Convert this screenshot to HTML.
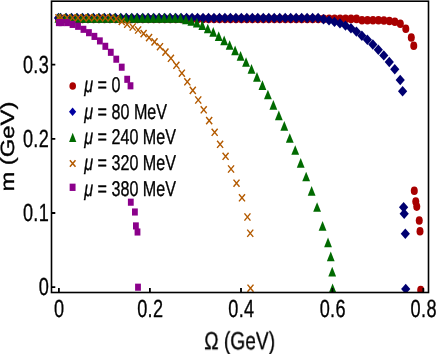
<!DOCTYPE html>
<html><head><meta charset="utf-8"><title>plot</title>
<style>html,body{margin:0;padding:0;background:#fff;}svg{display:block;font-family:"Liberation Sans",sans-serif;}text{text-rendering:geometricPrecision;}</style>
</head><body>
<svg style="will-change:transform" width="436" height="354" viewBox="0 0 436 354">
<rect width="436" height="354" fill="#fff"/>
<defs><clipPath id="cp"><rect x="51.5" y="1.2" width="377" height="291.3"/></clipPath></defs><g clip-path="url(#cp)">
<g><ellipse cx="58.70" cy="18.90" rx="3.5" ry="4.3" fill="#a80000"/><ellipse cx="60.70" cy="18.90" rx="3.5" ry="4.3" fill="#a80000"/><ellipse cx="66.18" cy="18.90" rx="3.5" ry="4.3" fill="#a80000"/><ellipse cx="71.66" cy="18.90" rx="3.5" ry="4.3" fill="#a80000"/><ellipse cx="77.13" cy="18.90" rx="3.5" ry="4.3" fill="#a80000"/><ellipse cx="82.61" cy="18.90" rx="3.5" ry="4.3" fill="#a80000"/><ellipse cx="88.09" cy="18.90" rx="3.5" ry="4.3" fill="#a80000"/><ellipse cx="93.57" cy="18.90" rx="3.5" ry="4.3" fill="#a80000"/><ellipse cx="99.05" cy="18.90" rx="3.5" ry="4.3" fill="#a80000"/><ellipse cx="104.52" cy="18.90" rx="3.5" ry="4.3" fill="#a80000"/><ellipse cx="110.00" cy="18.90" rx="3.5" ry="4.3" fill="#a80000"/><ellipse cx="115.48" cy="18.90" rx="3.5" ry="4.3" fill="#a80000"/><ellipse cx="120.96" cy="18.90" rx="3.5" ry="4.3" fill="#a80000"/><ellipse cx="126.44" cy="18.90" rx="3.5" ry="4.3" fill="#a80000"/><ellipse cx="131.91" cy="18.90" rx="3.5" ry="4.3" fill="#a80000"/><ellipse cx="137.39" cy="18.90" rx="3.5" ry="4.3" fill="#a80000"/><ellipse cx="142.87" cy="18.90" rx="3.5" ry="4.3" fill="#a80000"/><ellipse cx="148.35" cy="18.90" rx="3.5" ry="4.3" fill="#a80000"/><ellipse cx="153.83" cy="18.90" rx="3.5" ry="4.3" fill="#a80000"/><ellipse cx="159.30" cy="18.90" rx="3.5" ry="4.3" fill="#a80000"/><ellipse cx="164.78" cy="18.90" rx="3.5" ry="4.3" fill="#a80000"/><ellipse cx="170.26" cy="18.90" rx="3.5" ry="4.3" fill="#a80000"/><ellipse cx="175.74" cy="18.90" rx="3.5" ry="4.3" fill="#a80000"/><ellipse cx="181.22" cy="18.90" rx="3.5" ry="4.3" fill="#a80000"/><ellipse cx="186.69" cy="18.90" rx="3.5" ry="4.3" fill="#a80000"/><ellipse cx="192.17" cy="18.90" rx="3.5" ry="4.3" fill="#a80000"/><ellipse cx="197.65" cy="18.90" rx="3.5" ry="4.3" fill="#a80000"/><ellipse cx="203.13" cy="18.90" rx="3.5" ry="4.3" fill="#a80000"/><ellipse cx="208.61" cy="18.90" rx="3.5" ry="4.3" fill="#a80000"/><ellipse cx="214.08" cy="18.90" rx="3.5" ry="4.3" fill="#a80000"/><ellipse cx="219.56" cy="18.90" rx="3.5" ry="4.3" fill="#a80000"/><ellipse cx="225.04" cy="18.90" rx="3.5" ry="4.3" fill="#a80000"/><ellipse cx="230.52" cy="18.90" rx="3.5" ry="4.3" fill="#a80000"/><ellipse cx="236.00" cy="18.90" rx="3.5" ry="4.3" fill="#a80000"/><ellipse cx="241.47" cy="18.90" rx="3.5" ry="4.3" fill="#a80000"/><ellipse cx="246.95" cy="18.90" rx="3.5" ry="4.3" fill="#a80000"/><ellipse cx="252.43" cy="18.90" rx="3.5" ry="4.3" fill="#a80000"/><ellipse cx="257.91" cy="18.90" rx="3.5" ry="4.3" fill="#a80000"/><ellipse cx="263.39" cy="18.90" rx="3.5" ry="4.3" fill="#a80000"/><ellipse cx="268.86" cy="18.90" rx="3.5" ry="4.3" fill="#a80000"/><ellipse cx="274.34" cy="18.90" rx="3.5" ry="4.3" fill="#a80000"/><ellipse cx="279.82" cy="18.90" rx="3.5" ry="4.3" fill="#a80000"/><ellipse cx="285.30" cy="18.90" rx="3.5" ry="4.3" fill="#a80000"/><ellipse cx="290.78" cy="18.90" rx="3.5" ry="4.3" fill="#a80000"/><ellipse cx="296.25" cy="18.90" rx="3.5" ry="4.3" fill="#a80000"/><ellipse cx="301.73" cy="18.90" rx="3.5" ry="4.3" fill="#a80000"/><ellipse cx="307.21" cy="18.90" rx="3.5" ry="4.3" fill="#a80000"/><ellipse cx="312.69" cy="18.90" rx="3.5" ry="4.3" fill="#a80000"/><ellipse cx="318.17" cy="18.90" rx="3.5" ry="4.3" fill="#a80000"/><ellipse cx="323.64" cy="18.90" rx="3.5" ry="4.3" fill="#a80000"/><ellipse cx="329.12" cy="18.90" rx="3.5" ry="4.3" fill="#a80000"/><ellipse cx="334.60" cy="18.90" rx="3.5" ry="4.3" fill="#a80000"/><ellipse cx="340.08" cy="18.90" rx="3.5" ry="4.3" fill="#a80000"/><ellipse cx="345.56" cy="18.90" rx="3.5" ry="4.3" fill="#a80000"/><ellipse cx="351.03" cy="18.90" rx="3.5" ry="4.3" fill="#a80000"/><ellipse cx="356.51" cy="18.90" rx="3.5" ry="4.3" fill="#a80000"/><ellipse cx="361.99" cy="20.20" rx="3.5" ry="4.3" fill="#a80000"/><ellipse cx="367.47" cy="20.20" rx="3.5" ry="4.3" fill="#a80000"/><ellipse cx="372.95" cy="20.30" rx="3.5" ry="4.3" fill="#a80000"/><ellipse cx="378.42" cy="20.30" rx="3.5" ry="4.3" fill="#a80000"/><ellipse cx="383.90" cy="20.50" rx="3.5" ry="4.3" fill="#a80000"/><ellipse cx="389.38" cy="21.00" rx="3.5" ry="4.3" fill="#a80000"/><ellipse cx="394.86" cy="21.80" rx="3.5" ry="4.3" fill="#a80000"/><ellipse cx="400.34" cy="23.80" rx="3.5" ry="4.3" fill="#a80000"/><ellipse cx="405.81" cy="28.80" rx="3.5" ry="4.3" fill="#a80000"/><ellipse cx="411.29" cy="37.50" rx="3.5" ry="4.3" fill="#a80000"/><ellipse cx="413.75" cy="45.75" rx="3.5" ry="4.3" fill="#a80000"/><ellipse cx="414.30" cy="190.80" rx="3.5" ry="4.3" fill="#a80000"/><ellipse cx="415.75" cy="201.50" rx="3.5" ry="4.3" fill="#a80000"/><ellipse cx="416.75" cy="206.60" rx="3.5" ry="4.3" fill="#a80000"/><ellipse cx="419.25" cy="220.50" rx="3.5" ry="4.3" fill="#a80000"/><ellipse cx="420.00" cy="231.25" rx="3.5" ry="4.3" fill="#a80000"/><ellipse cx="420.70" cy="290.00" rx="3.5" ry="4.3" fill="#a80000"/></g>
<g><path d="M53.90 18.00L58.50 12.80L63.10 18.00L58.50 23.20Z" fill="#000070"/><path d="M56.00 18.00L60.60 12.80L65.20 18.00L60.60 23.20Z" fill="#000070"/><path d="M61.48 18.00L66.08 12.80L70.68 18.00L66.08 23.20Z" fill="#000070"/><path d="M66.96 18.00L71.56 12.80L76.16 18.00L71.56 23.20Z" fill="#000070"/><path d="M72.43 18.00L77.03 12.80L81.63 18.00L77.03 23.20Z" fill="#000070"/><path d="M77.91 18.00L82.51 12.80L87.11 18.00L82.51 23.20Z" fill="#000070"/><path d="M83.39 18.00L87.99 12.80L92.59 18.00L87.99 23.20Z" fill="#000070"/><path d="M88.87 18.00L93.47 12.80L98.07 18.00L93.47 23.20Z" fill="#000070"/><path d="M94.35 18.00L98.95 12.80L103.55 18.00L98.95 23.20Z" fill="#000070"/><path d="M99.82 18.00L104.42 12.80L109.02 18.00L104.42 23.20Z" fill="#000070"/><path d="M105.30 18.00L109.90 12.80L114.50 18.00L109.90 23.20Z" fill="#000070"/><path d="M110.78 18.00L115.38 12.80L119.98 18.00L115.38 23.20Z" fill="#000070"/><path d="M116.26 18.00L120.86 12.80L125.46 18.00L120.86 23.20Z" fill="#000070"/><path d="M121.74 18.00L126.34 12.80L130.94 18.00L126.34 23.20Z" fill="#000070"/><path d="M127.21 18.00L131.81 12.80L136.41 18.00L131.81 23.20Z" fill="#000070"/><path d="M132.69 18.00L137.29 12.80L141.89 18.00L137.29 23.20Z" fill="#000070"/><path d="M138.17 18.00L142.77 12.80L147.37 18.00L142.77 23.20Z" fill="#000070"/><path d="M143.65 18.00L148.25 12.80L152.85 18.00L148.25 23.20Z" fill="#000070"/><path d="M149.13 18.00L153.73 12.80L158.33 18.00L153.73 23.20Z" fill="#000070"/><path d="M154.60 18.00L159.20 12.80L163.80 18.00L159.20 23.20Z" fill="#000070"/><path d="M160.08 18.00L164.68 12.80L169.28 18.00L164.68 23.20Z" fill="#000070"/><path d="M165.56 18.00L170.16 12.80L174.76 18.00L170.16 23.20Z" fill="#000070"/><path d="M171.04 18.00L175.64 12.80L180.24 18.00L175.64 23.20Z" fill="#000070"/><path d="M176.52 18.00L181.12 12.80L185.72 18.00L181.12 23.20Z" fill="#000070"/><path d="M181.99 18.00L186.59 12.80L191.19 18.00L186.59 23.20Z" fill="#000070"/><path d="M187.47 18.00L192.07 12.80L196.67 18.00L192.07 23.20Z" fill="#000070"/><path d="M192.95 18.00L197.55 12.80L202.15 18.00L197.55 23.20Z" fill="#000070"/><path d="M198.43 18.00L203.03 12.80L207.63 18.00L203.03 23.20Z" fill="#000070"/><path d="M203.91 18.00L208.51 12.80L213.11 18.00L208.51 23.20Z" fill="#000070"/><path d="M209.38 18.00L213.98 12.80L218.58 18.00L213.98 23.20Z" fill="#000070"/><path d="M214.86 18.00L219.46 12.80L224.06 18.00L219.46 23.20Z" fill="#000070"/><path d="M220.34 18.00L224.94 12.80L229.54 18.00L224.94 23.20Z" fill="#000070"/><path d="M225.82 18.00L230.42 12.80L235.02 18.00L230.42 23.20Z" fill="#000070"/><path d="M231.30 18.00L235.90 12.80L240.50 18.00L235.90 23.20Z" fill="#000070"/><path d="M236.77 18.00L241.37 12.80L245.97 18.00L241.37 23.20Z" fill="#000070"/><path d="M242.25 18.00L246.85 12.80L251.45 18.00L246.85 23.20Z" fill="#000070"/><path d="M247.73 18.00L252.33 12.80L256.93 18.00L252.33 23.20Z" fill="#000070"/><path d="M253.21 18.00L257.81 12.80L262.41 18.00L257.81 23.20Z" fill="#000070"/><path d="M258.69 18.00L263.29 12.80L267.89 18.00L263.29 23.20Z" fill="#000070"/><path d="M264.16 18.00L268.76 12.80L273.36 18.00L268.76 23.20Z" fill="#000070"/><path d="M269.64 18.00L274.24 12.80L278.84 18.00L274.24 23.20Z" fill="#000070"/><path d="M275.12 18.00L279.72 12.80L284.32 18.00L279.72 23.20Z" fill="#000070"/><path d="M280.60 18.00L285.20 12.80L289.80 18.00L285.20 23.20Z" fill="#000070"/><path d="M286.08 18.00L290.68 12.80L295.28 18.00L290.68 23.20Z" fill="#000070"/><path d="M291.55 18.00L296.15 12.80L300.75 18.00L296.15 23.20Z" fill="#000070"/><path d="M297.03 18.00L301.63 12.80L306.23 18.00L301.63 23.20Z" fill="#000070"/><path d="M302.51 18.00L307.11 12.80L311.71 18.00L307.11 23.20Z" fill="#000070"/><path d="M307.99 18.00L312.59 12.80L317.19 18.00L312.59 23.20Z" fill="#000070"/><path d="M313.47 18.00L318.07 12.80L322.67 18.00L318.07 23.20Z" fill="#000070"/><path d="M318.94 19.30L323.54 14.10L328.14 19.30L323.54 24.50Z" fill="#000070"/><path d="M324.42 20.40L329.02 15.20L333.62 20.40L329.02 25.60Z" fill="#000070"/><path d="M329.90 21.90L334.50 16.70L339.10 21.90L334.50 27.10Z" fill="#000070"/><path d="M335.38 23.40L339.98 18.20L344.58 23.40L339.98 28.60Z" fill="#000070"/><path d="M340.86 25.60L345.46 20.40L350.06 25.60L345.46 30.80Z" fill="#000070"/><path d="M346.33 28.20L350.93 23.00L355.53 28.20L350.93 33.40Z" fill="#000070"/><path d="M351.81 31.60L356.41 26.40L361.01 31.60L356.41 36.80Z" fill="#000070"/><path d="M357.29 35.70L361.89 30.50L366.49 35.70L361.89 40.90Z" fill="#000070"/><path d="M362.77 39.80L367.37 34.60L371.97 39.80L367.37 45.00Z" fill="#000070"/><path d="M368.25 44.50L372.85 39.30L377.45 44.50L372.85 49.70Z" fill="#000070"/><path d="M373.72 49.80L378.32 44.60L382.92 49.80L378.32 55.00Z" fill="#000070"/><path d="M379.20 55.40L383.80 50.20L388.40 55.40L383.80 60.60Z" fill="#000070"/><path d="M384.68 62.00L389.28 56.80L393.88 62.00L389.28 67.20Z" fill="#000070"/><path d="M390.16 69.20L394.76 64.00L399.36 69.20L394.76 74.40Z" fill="#000070"/><path d="M395.64 80.00L400.24 74.80L404.84 80.00L400.24 85.20Z" fill="#000070"/><path d="M398.00 91.30L402.60 86.10L407.20 91.30L402.60 96.50Z" fill="#000070"/><path d="M399.00 207.20L403.60 202.00L408.20 207.20L403.60 212.40Z" fill="#000070"/><path d="M399.60 213.80L404.20 208.60L408.80 213.80L404.20 219.00Z" fill="#000070"/><path d="M400.70 233.70L405.30 228.50L409.90 233.70L405.30 238.90Z" fill="#000070"/><path d="M401.10 289.00L405.70 283.80L410.30 289.00L405.70 294.20Z" fill="#000070"/></g>
<g><path d="M54.50 22.65L58.40 12.95L62.30 22.65Z" fill="#006a00"/><path d="M56.30 22.65L60.20 12.95L64.10 22.65Z" fill="#006a00"/><path d="M61.77 22.65L65.67 12.95L69.57 22.65Z" fill="#006a00"/><path d="M67.23 22.65L71.13 12.95L75.03 22.65Z" fill="#006a00"/><path d="M72.70 22.65L76.60 12.95L80.50 22.65Z" fill="#006a00"/><path d="M78.16 22.65L82.06 12.95L85.96 22.65Z" fill="#006a00"/><path d="M83.63 22.65L87.53 12.95L91.43 22.65Z" fill="#006a00"/><path d="M89.10 22.65L93.00 12.95L96.90 22.65Z" fill="#006a00"/><path d="M94.56 22.65L98.46 12.95L102.36 22.65Z" fill="#006a00"/><path d="M100.03 22.65L103.93 12.95L107.83 22.65Z" fill="#006a00"/><path d="M105.49 22.65L109.39 12.95L113.29 22.65Z" fill="#006a00"/><path d="M110.96 22.65L114.86 12.95L118.76 22.65Z" fill="#006a00"/><path d="M116.43 22.65L120.33 12.95L124.23 22.65Z" fill="#006a00"/><path d="M121.89 22.65L125.79 12.95L129.69 22.65Z" fill="#006a00"/><path d="M127.36 22.65L131.26 12.95L135.16 22.65Z" fill="#006a00"/><path d="M132.82 22.65L136.72 12.95L140.62 22.65Z" fill="#006a00"/><path d="M138.29 22.65L142.19 12.95L146.09 22.65Z" fill="#006a00"/><path d="M143.76 22.65L147.66 12.95L151.56 22.65Z" fill="#006a00"/><path d="M149.22 22.65L153.12 12.95L157.02 22.65Z" fill="#006a00"/><path d="M154.69 22.65L158.59 12.95L162.49 22.65Z" fill="#006a00"/><path d="M160.15 22.65L164.05 12.95L167.95 22.65Z" fill="#006a00"/><path d="M165.62 22.65L169.52 12.95L173.42 22.65Z" fill="#006a00"/><path d="M171.09 22.65L174.99 12.95L178.89 22.65Z" fill="#006a00"/><path d="M176.55 22.65L180.45 12.95L184.35 22.65Z" fill="#006a00"/><path d="M182.02 24.35L185.92 14.65L189.82 24.35Z" fill="#006a00"/><path d="M187.48 25.85L191.38 16.15L195.28 25.85Z" fill="#006a00"/><path d="M192.95 27.55L196.85 17.85L200.75 27.55Z" fill="#006a00"/><path d="M198.42 30.05L202.32 20.35L206.22 30.05Z" fill="#006a00"/><path d="M203.88 33.35L207.78 23.65L211.68 33.35Z" fill="#006a00"/><path d="M209.35 36.65L213.25 26.95L217.15 36.65Z" fill="#006a00"/><path d="M214.81 40.95L218.71 31.25L222.61 40.95Z" fill="#006a00"/><path d="M220.28 45.15L224.18 35.45L228.08 45.15Z" fill="#006a00"/><path d="M225.75 49.85L229.65 40.15L233.55 49.85Z" fill="#006a00"/><path d="M231.21 55.15L235.11 45.45L239.01 55.15Z" fill="#006a00"/><path d="M236.68 60.65L240.58 50.95L244.48 60.65Z" fill="#006a00"/><path d="M242.14 66.85L246.04 57.15L249.94 66.85Z" fill="#006a00"/><path d="M247.61 73.75L251.51 64.05L255.41 73.75Z" fill="#006a00"/><path d="M253.08 81.65L256.98 71.95L260.88 81.65Z" fill="#006a00"/><path d="M258.54 89.95L262.44 80.25L266.34 89.95Z" fill="#006a00"/><path d="M264.01 99.35L267.91 89.65L271.81 99.35Z" fill="#006a00"/><path d="M269.47 109.75L273.37 100.05L277.27 109.75Z" fill="#006a00"/><path d="M274.94 120.25L278.84 110.55L282.74 120.25Z" fill="#006a00"/><path d="M280.41 130.75L284.31 121.05L288.21 130.75Z" fill="#006a00"/><path d="M285.87 142.85L289.77 133.15L293.67 142.85Z" fill="#006a00"/><path d="M291.34 154.85L295.24 145.15L299.14 154.85Z" fill="#006a00"/><path d="M296.80 167.65L300.70 157.95L304.60 167.65Z" fill="#006a00"/><path d="M302.27 181.35L306.17 171.65L310.07 181.35Z" fill="#006a00"/><path d="M307.74 195.65L311.64 185.95L315.54 195.65Z" fill="#006a00"/><path d="M313.20 211.85L317.10 202.15L321.00 211.85Z" fill="#006a00"/><path d="M318.67 230.65L322.57 220.95L326.47 230.65Z" fill="#006a00"/><path d="M324.13 247.15L328.03 237.45L331.93 247.15Z" fill="#006a00"/><path d="M326.85 261.15L330.75 251.45L334.65 261.15Z" fill="#006a00"/><path d="M328.30 276.45L332.20 266.75L336.10 276.45Z" fill="#006a00"/><path d="M328.70 293.15L332.60 283.45L336.50 293.15Z" fill="#006a00"/></g>
<g><path d="M55.50 14.20L61.50 21.40M55.50 21.40L61.50 14.20" stroke="#b35a00" stroke-width="1.45" fill="none"/><path d="M58.60 14.20L64.60 21.40M58.60 21.40L64.60 14.20" stroke="#b35a00" stroke-width="1.45" fill="none"/><path d="M64.07 14.20L70.07 21.40M64.07 21.40L70.07 14.20" stroke="#b35a00" stroke-width="1.45" fill="none"/><path d="M69.53 14.20L75.53 21.40M69.53 21.40L75.53 14.20" stroke="#b35a00" stroke-width="1.45" fill="none"/><path d="M75.00 14.20L81.00 21.40M75.00 21.40L81.00 14.20" stroke="#b35a00" stroke-width="1.45" fill="none"/><path d="M80.46 14.20L86.46 21.40M80.46 21.40L86.46 14.20" stroke="#b35a00" stroke-width="1.45" fill="none"/><path d="M85.93 14.20L91.93 21.40M85.93 21.40L91.93 14.20" stroke="#b35a00" stroke-width="1.45" fill="none"/><path d="M91.40 14.20L97.40 21.40M91.40 21.40L97.40 14.20" stroke="#b35a00" stroke-width="1.45" fill="none"/><path d="M96.86 14.20L102.86 21.40M96.86 21.40L102.86 14.20" stroke="#b35a00" stroke-width="1.45" fill="none"/><path d="M102.33 14.20L108.33 21.40M102.33 21.40L108.33 14.20" stroke="#b35a00" stroke-width="1.45" fill="none"/><path d="M107.79 14.20L113.79 21.40M107.79 21.40L113.79 14.20" stroke="#b35a00" stroke-width="1.45" fill="none"/><path d="M113.26 15.30L119.26 22.50M113.26 22.50L119.26 15.30" stroke="#b35a00" stroke-width="1.45" fill="none"/><path d="M118.73 17.80L124.73 25.00M118.73 25.00L124.73 17.80" stroke="#b35a00" stroke-width="1.45" fill="none"/><path d="M124.19 20.70L130.19 27.90M124.19 27.90L130.19 20.70" stroke="#b35a00" stroke-width="1.45" fill="none"/><path d="M129.66 23.40L135.66 30.60M129.66 30.60L135.66 23.40" stroke="#b35a00" stroke-width="1.45" fill="none"/><path d="M135.12 26.40L141.12 33.60M135.12 33.60L141.12 26.40" stroke="#b35a00" stroke-width="1.45" fill="none"/><path d="M140.59 30.00L146.59 37.20M140.59 37.20L146.59 30.00" stroke="#b35a00" stroke-width="1.45" fill="none"/><path d="M146.06 34.00L152.06 41.20M146.06 41.20L152.06 34.00" stroke="#b35a00" stroke-width="1.45" fill="none"/><path d="M151.52 38.30L157.52 45.50M151.52 45.50L157.52 38.30" stroke="#b35a00" stroke-width="1.45" fill="none"/><path d="M156.99 43.10L162.99 50.30M156.99 50.30L162.99 43.10" stroke="#b35a00" stroke-width="1.45" fill="none"/><path d="M162.45 48.50L168.45 55.70M162.45 55.70L168.45 48.50" stroke="#b35a00" stroke-width="1.45" fill="none"/><path d="M167.92 54.70L173.92 61.90M167.92 61.90L173.92 54.70" stroke="#b35a00" stroke-width="1.45" fill="none"/><path d="M173.39 61.70L179.39 68.90M173.39 68.90L179.39 61.70" stroke="#b35a00" stroke-width="1.45" fill="none"/><path d="M178.85 69.60L184.85 76.80M178.85 76.80L184.85 69.60" stroke="#b35a00" stroke-width="1.45" fill="none"/><path d="M184.32 78.20L190.32 85.40M184.32 85.40L190.32 78.20" stroke="#b35a00" stroke-width="1.45" fill="none"/><path d="M189.78 86.80L195.78 94.00M189.78 94.00L195.78 86.80" stroke="#b35a00" stroke-width="1.45" fill="none"/><path d="M195.25 96.40L201.25 103.60M195.25 103.60L201.25 96.40" stroke="#b35a00" stroke-width="1.45" fill="none"/><path d="M200.72 106.20L206.72 113.40M200.72 113.40L206.72 106.20" stroke="#b35a00" stroke-width="1.45" fill="none"/><path d="M206.18 117.00L212.18 124.20M206.18 124.20L212.18 117.00" stroke="#b35a00" stroke-width="1.45" fill="none"/><path d="M211.65 128.70L217.65 135.90M211.65 135.90L217.65 128.70" stroke="#b35a00" stroke-width="1.45" fill="none"/><path d="M217.11 140.70L223.11 147.90M217.11 147.90L223.11 140.70" stroke="#b35a00" stroke-width="1.45" fill="none"/><path d="M222.58 152.70L228.58 159.90M222.58 159.90L228.58 152.70" stroke="#b35a00" stroke-width="1.45" fill="none"/><path d="M228.05 165.40L234.05 172.60M228.05 172.60L234.05 165.40" stroke="#b35a00" stroke-width="1.45" fill="none"/><path d="M233.51 179.60L239.51 186.80M233.51 186.80L239.51 179.60" stroke="#b35a00" stroke-width="1.45" fill="none"/><path d="M238.98 194.20L244.98 201.40M238.98 201.40L244.98 194.20" stroke="#b35a00" stroke-width="1.45" fill="none"/><path d="M244.44 213.40L250.44 220.60M244.44 220.60L250.44 213.40" stroke="#b35a00" stroke-width="1.45" fill="none"/><path d="M247.25 229.65L253.25 236.85M247.25 236.85L253.25 229.65" stroke="#b35a00" stroke-width="1.45" fill="none"/><path d="M247.50 284.60L253.50 291.80M247.50 291.80L253.50 284.60" stroke="#b35a00" stroke-width="1.45" fill="none"/></g>
<g><rect x="55.90" y="19.05" width="5.8" height="7.1" fill="#8b008b"/><rect x="58.70" y="19.05" width="5.8" height="7.1" fill="#8b008b"/><rect x="64.17" y="19.05" width="5.8" height="7.1" fill="#8b008b"/><rect x="69.63" y="20.85" width="5.8" height="7.1" fill="#8b008b"/><rect x="75.10" y="22.75" width="5.8" height="7.1" fill="#8b008b"/><rect x="80.56" y="25.75" width="5.8" height="7.1" fill="#8b008b"/><rect x="86.03" y="29.15" width="5.8" height="7.1" fill="#8b008b"/><rect x="91.50" y="32.85" width="5.8" height="7.1" fill="#8b008b"/><rect x="96.96" y="37.35" width="5.8" height="7.1" fill="#8b008b"/><rect x="102.43" y="42.75" width="5.8" height="7.1" fill="#8b008b"/><rect x="107.89" y="48.75" width="5.8" height="7.1" fill="#8b008b"/><rect x="113.36" y="55.65" width="5.8" height="7.1" fill="#8b008b"/><rect x="118.83" y="63.65" width="5.8" height="7.1" fill="#8b008b"/><rect x="124.29" y="75.75" width="5.8" height="7.1" fill="#8b008b"/><rect x="127.60" y="82.25" width="5.8" height="7.1" fill="#8b008b"/><rect x="127.90" y="198.65" width="5.8" height="7.1" fill="#8b008b"/><rect x="132.00" y="208.45" width="5.8" height="7.1" fill="#8b008b"/><rect x="133.00" y="222.35" width="5.8" height="7.1" fill="#8b008b"/><rect x="134.60" y="228.45" width="5.8" height="7.1" fill="#8b008b"/><rect x="135.10" y="283.65" width="5.8" height="7.1" fill="#8b008b"/></g>
</g>
<ellipse cx="72.70" cy="86.00" rx="3.3" ry="3.8" fill="#aa0000"/>
<path d="M69.00 111.80L72.60 107.50L76.20 111.80L72.60 116.10Z" fill="#0000a2"/>
<path d="M69.10 141.90L72.70 132.70L76.30 141.90Z" fill="#006a00"/>
<path d="M69.90 160.20L75.50 166.80M69.90 166.80L75.50 160.20" stroke="#b35a00" stroke-width="1.5" fill="none"/>
<rect x="69.65" y="183.65" width="5.9" height="7.3" fill="#8b008b"/>
<rect x="51.5" y="1.2" width="377.0" height="291.3" fill="none" stroke="#000" stroke-width="1.6"/><path d="M58.9 292.5V288.0M149.9 292.5V288.0M241.0 292.5V288.0M332.4 292.5V288.0M423.3 292.5V288.0M51.5 287.1H55.3M51.5 213.0H55.3M51.5 138.8H55.3M51.5 64.6H55.3" stroke="#000" stroke-width="1.8" fill="none"/>
<g opacity="0.999" font-family="Liberation Sans, sans-serif" fill="#000" stroke="#000" stroke-width="0.35" stroke-linejoin="round"><text transform="translate(59.3 316.7) scale(0.73 1)" font-size="24.8" text-anchor="middle" letter-spacing="0.5" >0</text><text transform="translate(150.3 316.7) scale(0.73 1)" font-size="24.8" text-anchor="middle" letter-spacing="0.5" >0.2</text><text transform="translate(241.4 316.7) scale(0.73 1)" font-size="24.8" text-anchor="middle" letter-spacing="0.5" >0.4</text><text transform="translate(332.79999999999995 316.7) scale(0.73 1)" font-size="24.8" text-anchor="middle" letter-spacing="0.5" >0.6</text><text transform="translate(423.7 316.7) scale(0.73 1)" font-size="24.8" text-anchor="middle" letter-spacing="0.5" >0.8</text><text transform="translate(49.2 295.0) scale(0.73 1)" font-size="24.8" text-anchor="end" letter-spacing="0.5" >0</text><text transform="translate(49.2 220.9) scale(0.73 1)" font-size="24.8" text-anchor="end" letter-spacing="0.5" >0.1</text><text transform="translate(49.2 146.70000000000002) scale(0.73 1)" font-size="24.8" text-anchor="end" letter-spacing="0.5" >0.2</text><text transform="translate(49.2 72.5) scale(0.73 1)" font-size="24.8" text-anchor="end" letter-spacing="0.5" >0.3</text><text transform="translate(239.7 349.2) scale(0.769 1)" font-size="24.9" text-anchor="middle" letter-spacing="0" >&#937; (GeV)</text><text transform="translate(13.7 146.6) rotate(-90) scale(1.242 1)" font-size="19.2" text-anchor="middle">m (GeV)</text><text transform="translate(84.3 92.4) scale(0.753 1)" font-size="21.4"><tspan font-style="italic">&#956;</tspan> = 0</text><text transform="translate(84.3 118.8) scale(0.753 1)" font-size="21.4"><tspan font-style="italic">&#956;</tspan> = 80 MeV</text><text transform="translate(84.3 144.2) scale(0.753 1)" font-size="21.4"><tspan font-style="italic">&#956;</tspan> = 240 MeV</text><text transform="translate(84.3 170.0) scale(0.753 1)" font-size="21.4"><tspan font-style="italic">&#956;</tspan> = 320 MeV</text><text transform="translate(84.3 195.8) scale(0.753 1)" font-size="21.4"><tspan font-style="italic">&#956;</tspan> = 380 MeV</text></g>
</svg>
</body></html>
